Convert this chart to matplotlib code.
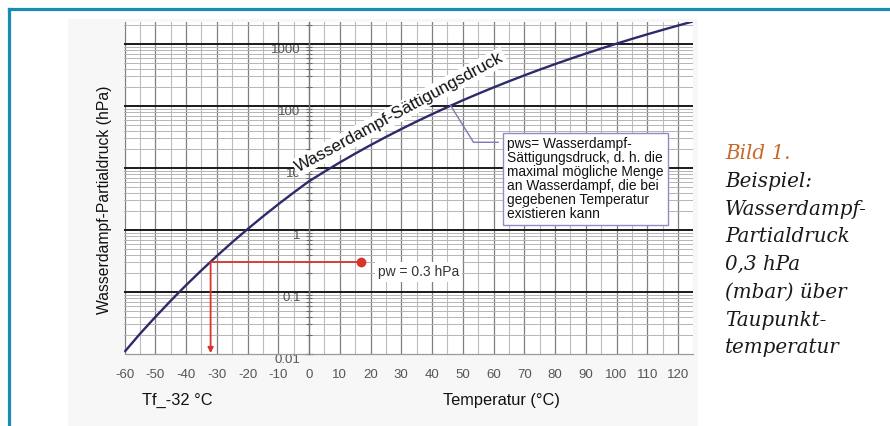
import matplotlib
matplotlib.use("Agg")
import matplotlib.pyplot as plt
import numpy as np
from matplotlib.patches import Rectangle
from matplotlib.lines import Line2D
from matplotlib.ticker import FixedLocator, NullFormatter

plt.rcParams['font.family'] = ['Liberation Sans', 'DejaVu Sans']

# Sättigungsdampfdruck, alle 5 °C
temp_c = [-60, -55, -50, -45, -40, -35, -30, -25, -20, -15, -10, -5, 0, 5, 10, 15, 20, 25, 30, 35,
          40, 45, 50, 55, 60, 65, 70, 75, 80, 85, 90, 95, 100, 105, 110, 115, 120, 125]
p_sat = [0.0108, 0.0211, 0.0394, 0.0720, 0.1285, 0.2233, 0.3802, 0.6329, 1.032, 1.652, 2.597, 4.015,
         6.112, 8.72, 12.28, 17.05, 23.39, 31.69, 42.46, 56.3, 73.8, 95.9, 123.5, 157.6, 199.4, 250.3,
         311.8, 385.7, 473.9, 578.4, 701.4, 845.3, 1013, 1208, 1433, 1691, 1985, 2321]

x_ticks = list(range(-60, 121, 10))
y_ticks = [0.01, 0.1, 1, 10, 100, 1000]
y_tick_labels = ["0.01", "0.1", "1", "10", "100", "1000"]

# Beispiel
pw_example = 0.3
tf_example = -32
pw_marker_temp = 17

caption = ["Bild 1.", "Beispiel:", "Wasserdampf-", "Partialdruck", "0,3 hPa",
           "(mbar) über", "Taupunkt-", "temperatur"]
info_text = ("pws= Wasserdampf-\nSättigungsdruck, d. h. die\nmaximal mögliche Menge\n"
             "an Wasserdampf, die bei\ngegebenen Temperatur\nexistieren kann")

W, H = 890, 426
fig = plt.figure(figsize=(W / 100, H / 100), dpi=100)
fig.patch.set_facecolor("white")

# leicht grauer Hintergrund des eingebetteten Bildes
fig.patches.append(Rectangle((68 / W, 0), (698 - 68) / W, (H - 19) / H, transform=fig.transFigure,
                             fc="#f7f7f7", ec="none", zorder=-5))
# türkiser Rahmen
fig.lines.append(Line2D([9 / W, 9 / W], [0, 1 - 9 / H], transform=fig.transFigure, color="#1a8cb3", lw=2.3))
fig.lines.append(Line2D([9 / W, 1], [1 - 9 / H, 1 - 9 / H], transform=fig.transFigure, color="#1a8cb3", lw=2.3))

left, right = 124.5 / W, 693.4 / W
top, bottom = 1 - 22 / H, 1 - 354 / H
ax = fig.add_axes([left, bottom, right - left, top - bottom])
ax.set_facecolor("white")
ax.set_yscale("log")
ax.set_xlim(-60, 125)
ax.set_ylim(0.01, 2265)

# Gitter
for t in range(-60, 126, 5):
    if t % 10 == 0:
        ax.axvline(t, color="#7f7f7f", lw=0.9, zorder=1)
    else:
        ax.axvline(t, color="#bcbcbc", lw=0.8, zorder=1)
for d in [0.01, 0.1, 1, 10, 100, 1000]:
    for m in range(2, 10):
        v = d * m
        if v < 2265:
            ax.axhline(v, color="#b5b5b5", lw=0.7, zorder=1)
for d in y_ticks[1:]:
    ax.axhline(d, color="#1a1a1a", lw=1.4, zorder=2)

# Kurve
ax.plot(temp_c, p_sat, color="#2c2a6b", lw=1.7, zorder=5, solid_capstyle="butt")

# Achsen
for s in ["top", "right"]:
    ax.spines[s].set_visible(False)
ax.spines["bottom"].set_color("#9a9a9a")
ax.spines["bottom"].set_linewidth(0.9)
ax.spines["left"].set_position(("data", 0))
ax.spines["left"].set_color("#777777")
ax.spines["left"].set_linewidth(0.9)
ax.spines["left"].set_zorder(3)

ax.set_xticks(x_ticks)
ax.set_xticklabels([str(t) for t in x_ticks])
ax.tick_params(axis="x", length=0, pad=11, labelsize=9.5, labelcolor="#555555")

ax.yaxis.set_major_locator(FixedLocator(y_ticks))
ax.set_yticklabels(y_tick_labels)
minor = [d * m for d in [0.01, 0.1, 1, 10, 100, 1000] for m in range(2, 10) if d * m < 2265]
ax.yaxis.set_minor_locator(FixedLocator(minor))
ax.yaxis.set_minor_formatter(NullFormatter())
ax.tick_params(axis="y", which="major", direction="inout", length=6, width=0.9, color="#555555",
               pad=3, labelsize=9.5, labelcolor="#555555")
ax.tick_params(axis="y", which="minor", direction="inout", length=4, width=0.8, color="#666666")
for lab in ax.get_yticklabels():
    lab.set_va("top")

# Kurvenbeschriftung
ax.text(29.5, 80, "Wasserdampf-Sättigungsdruck", rotation=28.5, rotation_mode="anchor",
        ha="center", va="center", fontsize=12.3, color="#111111", zorder=6,
        bbox=dict(boxstyle="square,pad=0.12", fc="white", ec="none"))

# Infobox mit Führungslinie
i45 = temp_c.index(45)
ax.plot([temp_c[i45] + 1, 53.5, 61.5], [p_sat[i45] * 1.07, 26, 26], color="#7d79b3", lw=1.0, zorder=6)
ax.text(64.4, 31.6, info_text, ha="left", va="top", fontsize=9.9, linespacing=1.0, color="#111111",
        zorder=7, bbox=dict(boxstyle="square,pad=0.3", fc="white", ec="#8f8cc4", lw=1.0))

# Beispiel pw = 0.3 hPa
red = "#d8342b"
ax.plot([tf_example, pw_marker_temp], [pw_example, pw_example], color=red, lw=1.3, zorder=6)
ax.plot([pw_marker_temp], [pw_example], "o", color=red, ms=6, zorder=7)
ax.annotate("", xy=(tf_example, 0.0103), xytext=(tf_example, pw_example),
            arrowprops=dict(arrowstyle="-|>", color=red, lw=1.3, mutation_scale=8, shrinkA=0, shrinkB=0),
            zorder=6)
ax.text(22.4, 0.21, "pw = 0.3 hPa", ha="left", va="center", fontsize=10, color="#333333", zorder=7,
        bbox=dict(boxstyle="square,pad=0.2", fc="white", ec="none"))

# Achsentitel
fig.text(105 / W, 1 - 200 / H, "Wasserdampf-Partialdruck (hPa)", rotation=90, ha="center", va="center",
         fontsize=11.3, color="#111111")
fig.text(501 / W, 1 - 400 / H, "Temperatur (°C)", ha="center", va="center", fontsize=11.8, color="#111111")
fig.text(142 / W, 1 - 400 / H, "Tf_-32 °C", ha="left", va="center", fontsize=11.8, color="#111111")

# Bildunterschrift rechts
for i, line in enumerate(caption):
    fig.text(725 / W, 1 - (159.3 + 27.7 * i) / H, line, ha="left", va="baseline",
             family="DejaVu Serif", style="italic", fontsize=14.3,
             color="#c8692a" if i == 0 else "#1a1a1a")

fig.savefig("out.png", dpi=100)
